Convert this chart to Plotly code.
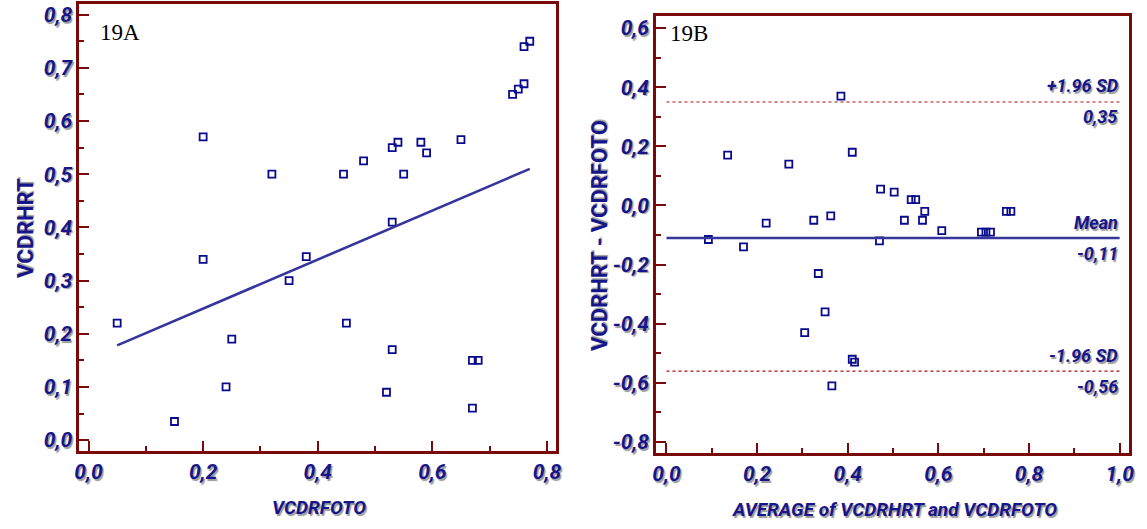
import plotly.graph_objects as go

# VCDR measured on photographs (x) and by HRT (y), one value per eye
vcdr_foto = [0.20, 0.32, 0.20, 0.05, 0.25, 0.24, 0.15, 0.35, 0.77, 0.76,
             0.76, 0.75, 0.74, 0.65, 0.58, 0.59, 0.54, 0.53, 0.55, 0.48,
             0.445, 0.53, 0.38, 0.45, 0.53, 0.52, 0.67, 0.68, 0.67]
vcdr_hrt = [0.57, 0.50, 0.34, 0.22, 0.19, 0.10, 0.035, 0.30, 0.75, 0.74,
            0.67, 0.66, 0.65, 0.565, 0.56, 0.54, 0.56, 0.55, 0.50, 0.525,
            0.50, 0.41, 0.345, 0.22, 0.17, 0.09, 0.15, 0.15, 0.06]

# Least-squares line of VCDRHRT on VCDRFOTO
fit_intercept = 0.155
fit_slope = 0.461

# Bland-Altman limits
mean_diff = -0.11
upper_loa = 0.35
lower_loa = -0.56

y_ticks_a = [0.0, 0.1, 0.2, 0.3, 0.4, 0.5, 0.6, 0.7, 0.8]
x_ticks_a = [0.0, 0.2, 0.4, 0.6, 0.8]
y_ticks_b = [-0.8, -0.6, -0.4, -0.2, 0.0, 0.2, 0.4, 0.6]
x_ticks_b = [0.0, 0.2, 0.4, 0.6, 0.8, 1.0]

avg = [(a + b) / 2 for a, b in zip(vcdr_hrt, vcdr_foto)]
diff = [b - a for a, b in zip(vcdr_foto, vcdr_hrt)]

NAVY = "#16168a"
MARK = "#0a0a8c"
LINE = "#35359c"
AXIS = "#7a0a0a"
FAM = "Roboto, Liberation Sans, sans-serif"
SHADOW = "1.5px 1.5px 1px #9a9a9a"


def comma(v, nd):
    return f"{v:.{nd}f}".replace(".", ",")


tick_font = dict(family=FAM, size=21, color=NAVY, weight="bold", style="italic", shadow=SHADOW)
lab_font = dict(family=FAM, size=19, color=NAVY, weight="bold", style="italic", shadow=SHADOW)
ref_font = dict(family=FAM, size=18, color=NAVY, weight="bold", style="italic", shadow=SHADOW)

fig = go.Figure()

fig.add_trace(go.Scatter(
    x=vcdr_foto, y=vcdr_hrt, mode="markers", xaxis="x", yaxis="y",
    marker=dict(symbol="square-open", size=7, color=MARK, line=dict(width=1.8, color=MARK)),
    showlegend=False, hoverinfo="skip"))

x0, x1 = min(vcdr_foto), max(vcdr_foto)
fig.add_trace(go.Scatter(
    x=[x0, x1], y=[fit_intercept + fit_slope * x0, fit_intercept + fit_slope * x1],
    mode="lines", xaxis="x", yaxis="y", line=dict(color=LINE, width=2.6),
    showlegend=False, hoverinfo="skip"))

fig.add_trace(go.Scatter(
    x=avg, y=diff, mode="markers", xaxis="x2", yaxis="y2",
    marker=dict(symbol="square-open", size=7, color=MARK, line=dict(width=1.8, color=MARK)),
    showlegend=False, hoverinfo="skip"))

fig.add_trace(go.Scatter(
    x=[0, 1], y=[mean_diff, mean_diff], mode="lines", xaxis="x2", yaxis="y2",
    line=dict(color=LINE, width=2.6), showlegend=False, hoverinfo="skip"))
for lim in (upper_loa, lower_loa):
    fig.add_trace(go.Scatter(
        x=[0, 1], y=[lim, lim], mode="lines", xaxis="x2", yaxis="y2",
        line=dict(color="#b01010", width=1.2, dash="dot"), showlegend=False, hoverinfo="skip"))


def axis(domain, rng, ticks, minor_dtick, anchor):
    return dict(
        domain=domain, range=rng, anchor=anchor,
        tickmode="array", tickvals=ticks, ticktext=[comma(t, 1) for t in ticks],
        ticks="inside", ticklen=10, tickwidth=2, tickcolor=AXIS,
        minor=dict(ticks="inside", ticklen=5, tickwidth=2, tickcolor=AXIS, dtick=minor_dtick),
        showline=True, linewidth=3, linecolor=AXIS, mirror=True,
        showgrid=False, zeroline=False, tickfont=tick_font)


fig.update_layout(
    width=1147, height=529, margin=dict(l=0, r=0, t=0, b=0),
    paper_bgcolor="white", plot_bgcolor="white",
    xaxis=axis([0.0654, 0.4847], [-0.016, 0.816], x_ticks_a, 0.1, "y"),
    yaxis=axis([0.1456, 0.9943], [-0.021, 0.82], y_ticks_a, 0.05, "x"),
    xaxis2=axis([0.5728, 0.9887], [-0.0225, 1.021], x_ticks_b, 0.1, "y2"),
    yaxis2=axis([0.1418, 0.9722], [-0.838, 0.642], y_ticks_b, 0.1, "x2"),
)

ann = []
# Panel tags
tag_font = dict(family="Liberation Serif, Times New Roman, serif", size=23, color="black")
ann.append(dict(text="19A", xref="paper", yref="paper", x=94 / 1147, y=1 - 32 / 529,
                xanchor="left", yanchor="middle", showarrow=False, font=tag_font))
ann.append(dict(text="19B", xref="paper", yref="paper", x=669 / 1147, y=1 - 33 / 529,
                xanchor="left", yanchor="middle", showarrow=False, font=tag_font))

# Axis titles
title_upright = dict(family=FAM, size=22, color=NAVY, weight="bold", shadow=SHADOW)
ann.append(dict(text="VCDRHRT", xref="paper", yref="paper", x=20 / 1147, y=1 - 228 / 529,
                textangle=-90, showarrow=False, xanchor="center", yanchor="middle", font=title_upright))
ann.append(dict(text="VCDRHRT - VCDRFOTO", xref="paper", yref="paper", x=599 / 1147, y=1 - 235 / 529,
                textangle=-90, showarrow=False, xanchor="center", yanchor="middle", font=title_upright))
ann.append(dict(text="VCDRFOTO", xref="paper", yref="paper", x=317 / 1147, y=1 - 508 / 529,
                showarrow=False, xanchor="center", yanchor="middle", font=lab_font))
ann.append(dict(text="AVERAGE of VCDRHRT and VCDRFOTO", xref="paper", yref="paper",
                x=897 / 1147, y=1 - 510 / 529,
                showarrow=False, xanchor="center", yanchor="middle", font=lab_font))

# Labels on the Bland-Altman reference lines
for name, val in (("+1.96 SD", upper_loa), ("Mean", mean_diff), ("-1.96 SD", lower_loa)):
    ann.append(dict(text=name, xref="x2", yref="y2", x=1.0, y=val, xanchor="right",
                    yanchor="middle", yshift=16, showarrow=False, font=ref_font))
    ann.append(dict(text=comma(val, 2), xref="x2", yref="y2", x=1.0, y=val, xanchor="right",
                    yanchor="middle", yshift=-15, showarrow=False, font=ref_font))

fig.update_layout(annotations=ann)
fig.write_html("out.html")
